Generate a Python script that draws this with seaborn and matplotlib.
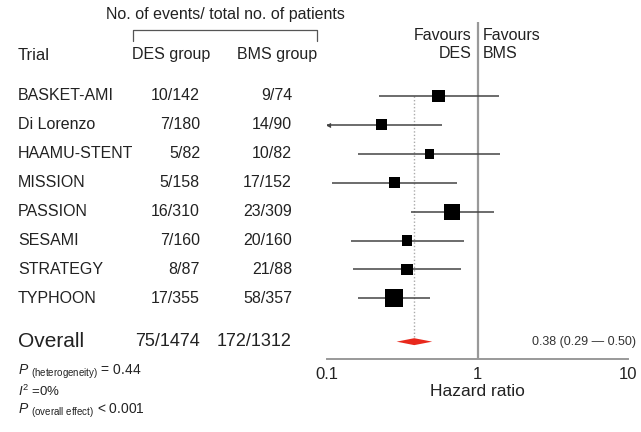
import numpy as np
import pandas as pd
import seaborn as sns
import matplotlib.pyplot as plt
from matplotlib.lines import Line2D
from matplotlib.transforms import blended_transform_factory

# Données des essais
trials = ['BASKET-AMI', 'Di Lorenzo', 'HAAMU-STENT', 'MISSION', 'PASSION', 'SESAMI', 'STRATEGY', 'TYPHOON']
des_events = ['10/142', '7/180', '5/82', '5/158', '16/310', '7/160', '8/87', '17/355']
bms_events = ['9/74', '14/90', '10/82', '17/152', '23/309', '20/160', '21/88', '58/357']
hr = [0.55, 0.23, 0.48, 0.28, 0.68, 0.34, 0.34, 0.28]
ci_low = [0.22, 0.08, 0.16, 0.108, 0.36, 0.144, 0.149, 0.16]
ci_high = [1.38, 0.58, 1.42, 0.73, 1.28, 0.81, 0.78, 0.48]
weight = [12.2, 9.2, 7.1, 9.7, 19.4, 8.0, 9.2, 25.3]

overall_des = '75/1474'
overall_bms = '172/1312'
overall_hr = 0.38
overall_low = 0.29
overall_high = 0.50

x_ticks = [0.1, 1, 10]
x_ticklabels = ['0.1', '1', '10']

sns.set_style('white')
plt.rcParams['font.family'] = ['Liberation Sans', 'DejaVu Sans']
plt.rcParams['mathtext.fontset'] = 'custom'
plt.rcParams['mathtext.rm'] = 'Liberation Sans'
plt.rcParams['mathtext.it'] = 'Liberation Sans:italic'

W, H = 641, 432
fig = plt.figure(figsize=(W / 100, H / 100), dpi=100)

def fx(x):
    return x / W

def fy(y):
    return 1 - y / H

# Axe du forest plot (pixels 327..628 en x, 22..359 en y)
ax = fig.add_axes([fx(327), fy(359), fx(628) - fx(327), fy(22) - fy(359)])
ax.set_xscale('log')
ax.set_xlim(0.1, 10)
ax.set_ylim(9.1, -2.56)

df = pd.DataFrame({'trial': trials, 'hr': hr, 'lo': ci_low, 'hi': ci_high, 'w': weight})
df['row'] = np.arange(len(df))
df['lo_clip'] = df['lo'].clip(lower=0.1)

text_col = '#222222'
line_col = '#444444'

# Intervalles de confiance
ax.hlines(df['row'], df['lo_clip'], df['hi'], color=line_col, lw=1.1, zorder=2)
trunc = df[df['lo'] < 0.1]
ax.scatter(trunc['lo_clip'] * 1.02, trunc['row'], marker='<', s=14, color=line_col, lw=0, zorder=3)

# Carrés (taille selon le poids)
sns.scatterplot(data=df, x='hr', y='row', size='w', sizes=(49, 174), marker='s',
                color='black', linewidth=0, legend=False, ax=ax, zorder=4)

overall_row = 8.5
# Ligne verticale à 1 et ligne pointillée de l'effet global
ax.axvline(1, color='#999999', lw=1.6, zorder=1)
ax.vlines(overall_hr, 0, overall_row, color='#aaaaaa', lw=1, linestyles=(0, (1, 1.5)), zorder=1)

# Losange global
h = 0.12
ax.fill([overall_low, overall_hr, overall_high, overall_hr],
        [overall_row, overall_row - h, overall_row, overall_row + h],
        color='#e8281c', lw=0, zorder=5)

# Axes et graduations
for s in ['top', 'right', 'left']:
    ax.spines[s].set_visible(False)
ax.spines['bottom'].set_color('#999999')
ax.spines['bottom'].set_linewidth(1.4)
ax.set_xticks(x_ticks)
ax.set_xticklabels(x_ticklabels, fontsize=12, color=text_col)
ax.minorticks_off()
ax.tick_params(axis='x', direction='in', length=4, width=1.2, color='#999999', pad=6)
ax.set_yticks([])
ax.set_ylabel('')
ax.set_xlabel('Hazard ratio', fontsize=12.5, color=text_col, labelpad=1)

ax.annotate('Favours\nDES', xy=(1, -1.78), xytext=(-4, 0), textcoords='offset points',
            ha='right', va='center', fontsize=11.5, color=text_col, linespacing=1.25)
ax.annotate('Favours\nBMS', xy=(1, -1.78), xytext=(4, 0), textcoords='offset points',
            ha='left', va='center', fontsize=11.5, color=text_col, linespacing=1.25)

tr = blended_transform_factory(fig.transFigure, ax.transData)
fig.text(fx(636), overall_row, '0.38 (0.29 \u2014 0.50)', transform=tr,
         ha='right', va='center', fontsize=9, color='#333333')

# Colonnes de texte à gauche
for i in range(len(trials)):
    fig.text(fx(18), i, trials[i], transform=tr, ha='left', va='center', fontsize=11.5, color=text_col)
    fig.text(fx(200), i, des_events[i], transform=tr, ha='right', va='center', fontsize=11.5, color=text_col)
    fig.text(fx(292), i, bms_events[i], transform=tr, ha='right', va='center', fontsize=11.5, color=text_col)

fig.text(fx(18), overall_row, 'Overall', transform=tr, ha='left', va='center', fontsize=15, color=text_col)
fig.text(fx(200), overall_row, overall_des, transform=tr, ha='right', va='center', fontsize=13, color=text_col)
fig.text(fx(292), overall_row, overall_bms, transform=tr, ha='right', va='center', fontsize=13, color=text_col)

# En-têtes
fig.text(fx(106), fy(15), 'No. of events/ total no. of patients', ha='left', va='center', fontsize=11.5, color=text_col)
fig.text(fx(18), fy(55), 'Trial', ha='left', va='center', fontsize=12, color=text_col)
fig.text(fx(132), fy(55), 'DES group', ha='left', va='center', fontsize=11.5, color=text_col)
fig.text(fx(237), fy(55), 'BMS group', ha='left', va='center', fontsize=11.5, color=text_col)
fig.add_artist(Line2D([fx(133), fx(133), fx(317), fx(317)], [fy(41), fy(30), fy(30), fy(41)],
                      color='#555555', lw=0.9))

# Statistiques en bas
fig.text(fx(18), fy(372), r'$\it{P}$ $_{\rm(heterogeneity)}$ = 0.44', ha='left', va='center', fontsize=10, color=text_col)
fig.text(fx(18), fy(391), r'$\it{I}^{2}$ =0%', ha='left', va='center', fontsize=9.5, color=text_col)
fig.text(fx(18), fy(411), r'$\it{P}$ $_{\rm(overall\ effect)}$ < 0.001', ha='left', va='center', fontsize=10, color=text_col)

fig.savefig('out.png', dpi=100, facecolor='white')
